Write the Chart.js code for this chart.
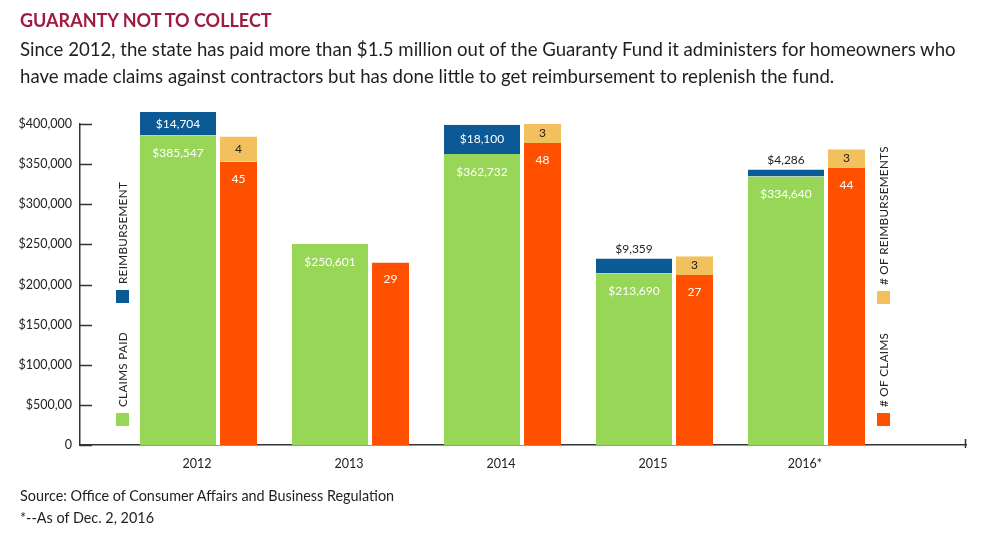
<!DOCTYPE html>
<html>
<head>
<meta charset="utf-8">
<script src="https://cdn.jsdelivr.net/npm/chart.js@4.4.1/dist/chart.umd.min.js"></script>
<style>
html,body{margin:0;padding:0;background:#fff;width:992px;height:545px;overflow:hidden;font-family:Lato, sans-serif;}
#wrap{position:relative;width:992px;height:545px;}
#c{position:absolute;left:0;top:0;}
.title{position:absolute;left:20px;top:9px;font-size:18px;font-weight:700;color:#9e1b42;letter-spacing:0px;white-space:nowrap;}
.sub{position:absolute;left:20px;top:36px;font-size:18.6px;line-height:27px;color:#1f1f1f;white-space:nowrap;}
.src{position:absolute;left:20px;top:485px;font-size:14.4px;line-height:22px;color:#1f1f1f;white-space:nowrap;}
</style>
</head>
<body>
<div id="wrap">
<canvas id="c" width="992" height="545"></canvas>
<div class="title">GUARANTY NOT TO COLLECT</div>
<div class="sub">Since 2012, the state has paid more than $1.5 million out of the Guaranty Fund it administers for homeowners who<br>have made claims against contractors but has done little to get reimbursement to replenish the fund.</div>
<div class="src">Source: Office of Consumer Affairs and Business Regulation<br>*--As of Dec. 2, 2016</div>
</div>
<script>
// ---- data ----
const categories = ['2012', '2013', '2014', '2015', '2016*'];
const claimsPaid = [385547, 250601, 362732, 213690, 334640];
const reimbursements = [14704, null, 18100, 9359, 4286];
const numClaims = [45, 29, 48, 27, 44];
const numReimbursements = [4, null, 3, 3, 3];
const yTickValues = [0, 50000, 100000, 150000, 200000, 250000, 300000, 350000, 400000];
const yTickLabels = ['0', '$500,00', '$100,000', '$150,000', '$200,000', '$250,000', '$300,000', '$350,000', '$400,000'];
const legendLeft = ['CLAIMS PAID', 'REIMBURSEMENT'];
const legendRight = ['# OF CLAIMS', '# OF REIMBURSEMENTS'];

// the original graphic draws the reimbursement bars at twice their dollar height
const REIMB_BAR_SCALE = 2;

const GREEN = '#97d657', BLUE = '#0b5a96', ORANGE = '#ff5000', YELLOW = '#f2c05c';
const AXIS = '#333333', TEXT = '#222222';
const FONT = 'Lato, sans-serif';

const toPoints = (arr, f) => arr.map((v, i) => ({ x: i, y: v == null ? null : v * (f || 1) }));
const fmt = v => '$' + v.toLocaleString('en-US');

const common = { clip: false, inflateAmount: 0, borderColor: '#ffffff', borderSkipped: false };

const labelPlugin = {
  id: 'labels',
  afterDatasetsDraw(chart) {
    const ctx = chart.ctx;
    ctx.save();
    ctx.textAlign = 'center';
    ctx.textBaseline = 'middle';
    ctx.font = '12px ' + FONT;
    // claims paid
    chart.getDatasetMeta(0).data.forEach((b, i) => {
      if (claimsPaid[i] == null) return;
      ctx.fillStyle = '#ffffff';
      ctx.fillText(fmt(claimsPaid[i]), b.x - 1, b.y + 18);
    });
    // reimbursements
    chart.getDatasetMeta(1).data.forEach((b, i) => {
      if (reimbursements[i] == null) return;
      const h = b.base - b.y;
      if (h > 18) {
        ctx.fillStyle = '#ffffff';
        ctx.fillText(fmt(reimbursements[i]), b.x - 1, (b.y + b.base) / 2);
      } else {
        ctx.fillStyle = TEXT;
        ctx.fillText(fmt(reimbursements[i]), b.x - 1, b.y - 9);
      }
    });
    // number of claims
    chart.getDatasetMeta(2).data.forEach((b, i) => {
      if (numClaims[i] == null) return;
      ctx.fillStyle = '#ffffff';
      ctx.fillText(String(numClaims[i]), b.x + 1, b.y + 17);
    });
    // number of reimbursements
    chart.getDatasetMeta(3).data.forEach((b, i) => {
      if (numReimbursements[i] == null) return;
      ctx.fillStyle = TEXT;
      ctx.fillText(String(numReimbursements[i]), b.x + 1, (b.y + b.base) / 2);
    });
    ctx.restore();
  },
  afterDraw(chart) {
    const ctx = chart.ctx;
    const ca = chart.chartArea;
    const ys = chart.scales.y;
    ctx.save();
    // inward y tick marks
    ctx.strokeStyle = AXIS;
    ctx.lineWidth = 1.5;
    yTickValues.forEach(v => {
      const y = Math.round(ys.getPixelForValue(v)) + 0.5;
      ctx.beginPath();
      ctx.moveTo(ca.left, y);
      ctx.lineTo(ca.left + 12, y);
      ctx.stroke();
    });
    // right-end tick on x axis
    ctx.beginPath();
    ctx.moveTo(ca.right - 0.5, ca.bottom - 6);
    ctx.lineTo(ca.right - 0.5, ca.bottom + 3);
    ctx.stroke();

    // vertical legends
    const drawLegend = (cx, squareTop, color, text) => {
      ctx.fillStyle = color;
      ctx.fillRect(cx - 6.5, squareTop, 13, 13);
      ctx.save();
      ctx.translate(cx + 0.5, squareTop - 6);
      ctx.rotate(-Math.PI / 2);
      ctx.fillStyle = TEXT;
      ctx.font = '11.7px ' + FONT;
      ctx.letterSpacing = '0.3px';
      ctx.textAlign = 'left';
      ctx.textBaseline = 'middle';
      ctx.fillText(text, 0, 0);
      ctx.restore();
    };
    const lx = ca.left + 42.5;
    const rx = ca.right - 82.5;
    drawLegend(lx, 413, GREEN, legendLeft[0]);
    drawLegend(lx, 290, BLUE, legendLeft[1]);
    drawLegend(rx, 413, ORANGE, legendRight[0]);
    drawLegend(rx, 291, YELLOW, legendRight[1]);
    ctx.restore();
  }
};

new Chart(document.getElementById('c'), {
  type: 'bar',
  data: {
    datasets: [
      Object.assign({ label: 'Claims paid', data: toPoints(claimsPaid), backgroundColor: GREEN, stack: 'money', yAxisID: 'y',
        barThickness: 78, borderWidth: { top: 0, right: 2, bottom: 0, left: 0 } }, common),
      Object.assign({ label: 'Reimbursement', data: toPoints(reimbursements, REIMB_BAR_SCALE), backgroundColor: BLUE, stack: 'money', yAxisID: 'y',
        barThickness: 78, borderWidth: { top: 0, right: 2, bottom: 0, left: 0 } }, common),
      Object.assign({ label: '# of claims', data: toPoints(numClaims), backgroundColor: ORANGE, stack: 'count', yAxisID: 'y2',
        barThickness: 39, borderWidth: { top: 0, right: 0, bottom: 0, left: 2 } }, common),
      Object.assign({ label: '# of reimbursements', data: toPoints(numReimbursements), backgroundColor: YELLOW, stack: 'count', yAxisID: 'y2',
        barThickness: 39, borderWidth: { top: 0, right: 0, bottom: 0, left: 2 } }, common)
    ]
  },
  options: {
    responsive: false,
    animation: false,
    devicePixelRatio: 1,
    layout: { padding: { left: 0, right: 26, top: 124, bottom: 70 } },
    plugins: { legend: { display: false }, tooltip: { enabled: false }, title: { display: false } },
    scales: {
      x: {
        type: 'linear',
        min: -0.908,
        max: 4.921,
        offset: false,
        grid: { display: false, drawTicks: false, offset: false },
        border: { display: true, color: AXIS, width: 1.5 },
        ticks: {
          autoSkip: false, maxRotation: 0, padding: 11, labelOffset: -21,
          color: TEXT, font: { family: FONT, size: 12.5 },
          callback: v => categories[v] !== undefined ? categories[v] : ''
        },
        afterBuildTicks: s => { s.ticks = categories.map((_, i) => ({ value: i })); },
        afterFit: s => { s.height = 30; }
      },
      y: {
        min: 0, max: 400000, stacked: true,
        grid: { display: false, drawTicks: false },
        border: { display: true, color: AXIS, width: 1.5 },
        ticks: {
          padding: 8, color: TEXT, font: { family: FONT, size: 12.5 },
          callback: v => yTickLabels[yTickValues.indexOf(v)]
        },
        afterBuildTicks: s => { s.ticks = yTickValues.map(v => ({ value: v })); },
        afterFit: s => { s.width = 80; }
      },
      y2: { display: false, min: 0, max: 51, stacked: true }
    }
  },
  plugins: [labelPlugin]
});
</script>
</body>
</html>
